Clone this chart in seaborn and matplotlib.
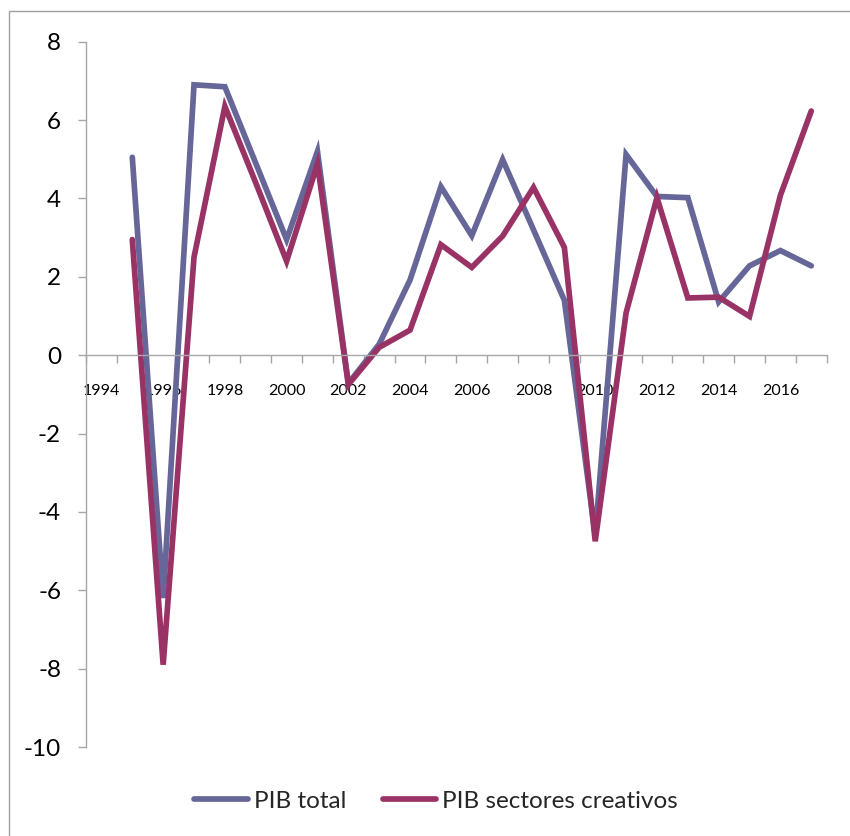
import numpy as np
import pandas as pd
import matplotlib
matplotlib.use("Agg")
import matplotlib.pyplot as plt
from matplotlib.patches import Rectangle
from matplotlib.ticker import FixedLocator
import seaborn as sns

# Annual growth rates (%)
years = list(range(1995, 2018))
pib_total = [5.05, -6.2, 6.9, 6.85, 4.9, 2.95, 5.2, -0.72, 0.28, 1.92, 4.3, 3.05,
             4.99, 3.2, 1.4, -4.6, 5.12, 4.05, 4.02, 1.36, 2.28, 2.67, 2.28]
pib_creativos = [2.95, -7.9, 2.5, 6.35, 4.4, 2.4, 4.88, -0.75, 0.2, 0.64, 2.82, 2.24,
                 3.04, 4.28, 2.75, -4.75, 1.08, 4.02, 1.46, 1.48, 0.99, 4.08, 6.23]
series_names = ["PIB total", "PIB sectores creativos"]
series_colors = ["#666699", "#993366"]
year_labels = list(range(1994, 2017, 2))

df = pd.DataFrame({
    "year": years * 2,
    "value": pib_total + pib_creativos,
    "serie": [series_names[0]] * len(years) + [series_names[1]] * len(years),
})

sns.set_theme(style="white")
plt.rcParams["font.family"] = ["Lato", "DejaVu Sans"]
plt.rcParams["axes.unicode_minus"] = False

fig = plt.figure(figsize=(8.5, 8.36), dpi=100)
ax = fig.add_axes([86 / 850, 1 - 747 / 836, (826.7 - 86) / 850, (747 - 41.7) / 836])

lw = 4.1
sns.lineplot(data=df, x="year", y="value", hue="serie", hue_order=series_names,
             palette=series_colors, linewidth=lw, ax=ax, legend=True,
             solid_capstyle="round", solid_joinstyle="miter")

axis_gray = "#A6A6A6"
ax.set_xlim(years[0] - 1.5, years[-1] + 0.5)
ax.set_ylim(-10, 8)
ax.set_yticks(np.arange(-10, 9, 2))
ax.set_xticks(year_labels)
ax.set_xticklabels([str(y) for y in year_labels])
ax.xaxis.set_minor_locator(FixedLocator(np.arange(years[0] - 1.5, years[-1] + 1, 1)))

for side in ("top", "right"):
    ax.spines[side].set_visible(False)
ax.spines["bottom"].set_position(("data", 0))
for side in ("left", "bottom"):
    ax.spines[side].set_color(axis_gray)
    ax.spines[side].set_linewidth(1.0)

ax.tick_params(axis="y", which="major", direction="out", length=6, width=1,
               color=axis_gray, labelsize=17.5, pad=12, labelcolor="black", left=True)
ax.tick_params(axis="x", which="major", length=0, labelsize=11.5, pad=21,
               labelcolor="black")
ax.tick_params(axis="x", which="minor", direction="out", length=6, width=1,
               color=axis_gray, bottom=True)
ax.set_xlabel("")
ax.set_ylabel("")
ax.grid(False)

handles, labels = ax.get_legend_handles_labels()
ax.legend_.remove()
for h in handles:
    h.set_linewidth(lw)
    h.set_solid_capstyle("round")
fig.legend(handles, labels, loc="center", bbox_to_anchor=(436 / 850, 1 - 801 / 836),
           ncol=2, frameon=False, fontsize=17.5, handlelength=2.2,
           handletextpad=0.25, columnspacing=1.5)

# chart area border
fig.add_artist(Rectangle((9 / 850, -0.01), 1.0, (836 - 11) / 836 + 0.01,
                         transform=fig.transFigure, fill=False,
                         edgecolor="#A0A0A0", linewidth=1.0))

fig.savefig("out.png", dpi=100)
